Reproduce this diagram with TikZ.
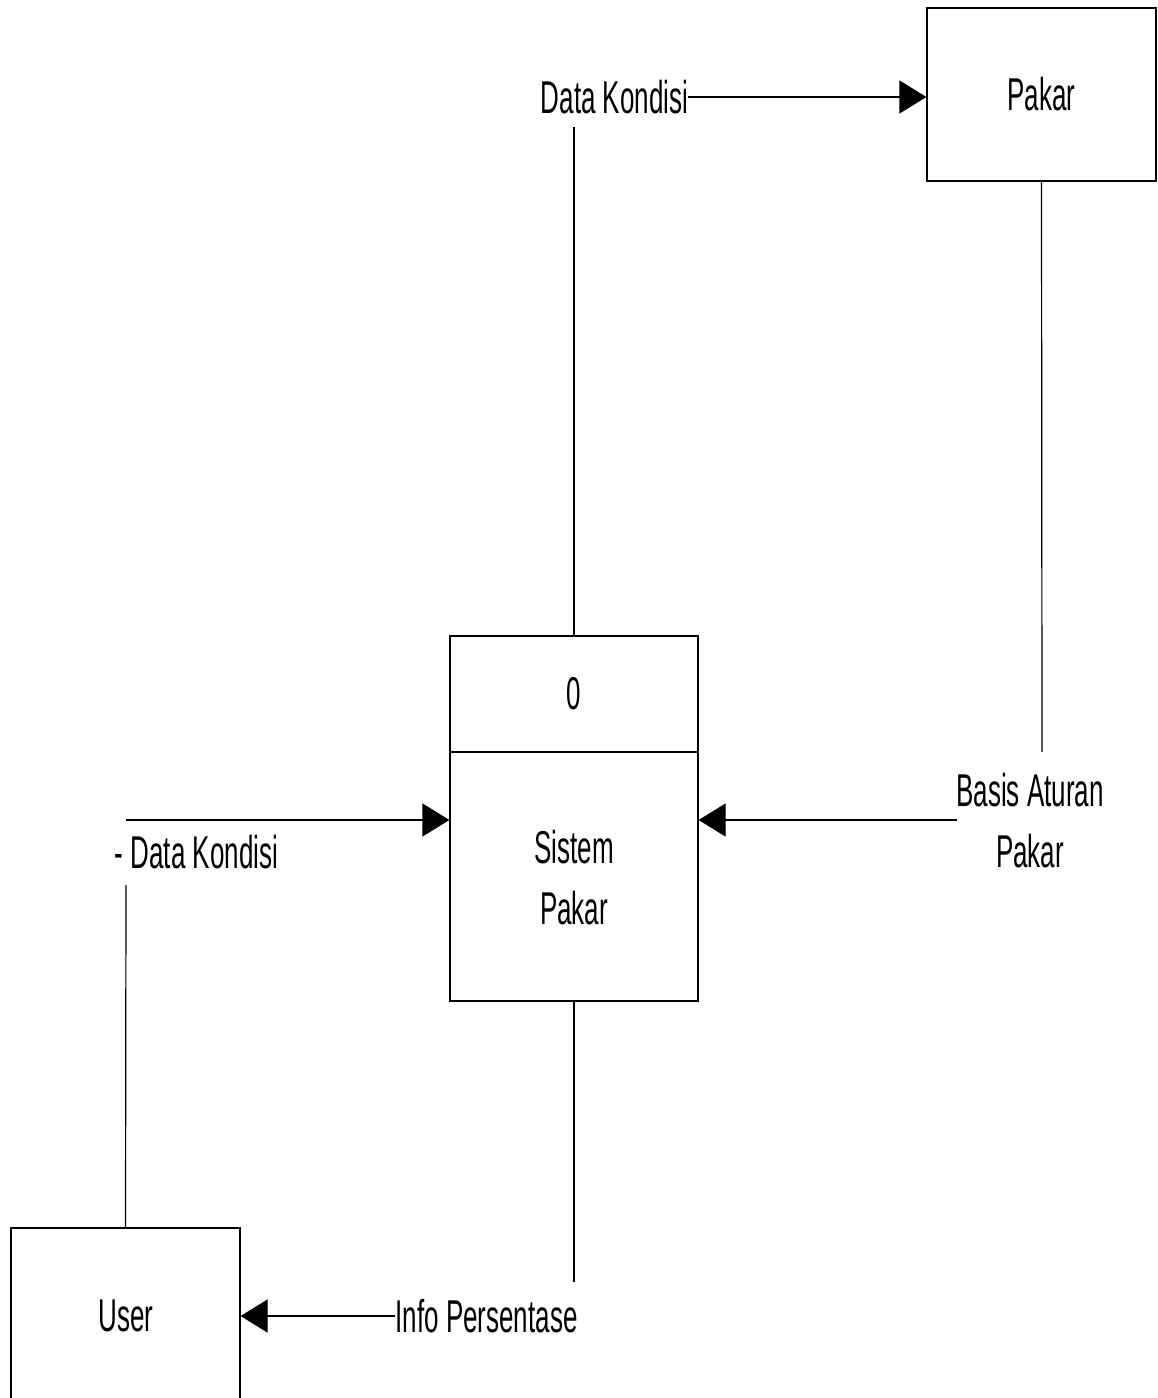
\documentclass[tikz,border=0pt]{standalone}
\usepackage{fontspec}
\setmainfont[FakeStretch=0.565]{Liberation Sans}
\usetikzlibrary{arrows.meta}
\tikzset{
  box/.style={draw, line width=1.2pt, inner sep=0pt, fill=white},
  flow/.style={line width=1.2pt},
  flowarrow/.style={line width=1.2pt, -{Triangle[length=27pt,width=33pt]}},
  lbl/.style={inner sep=0pt, align=center},
}
\begin{document}
\begin{tikzpicture}[x=1pt,y=-1pt,font=\fontsize{46}{61}\selectfont]
\useasboundingbox (0,0) rectangle (1157,1398);
\clip (0,0) rectangle (1157,1398);
\fill[white] (0,0) rectangle (1157,1398);

% external entities
\node[box, minimum width=229pt, minimum height=173pt] (pakar) at (1041.5,94.5) {Pakar};
\node[box, minimum width=229pt, minimum height=200pt] (user) at (125.5,1328) {};
\node[lbl] at (126,1316) {User};

% process 0
\node[box, minimum width=248pt, minimum height=116pt] (procid) at (574,694) {0};
\node[box, minimum width=248pt, minimum height=249pt] (procname) at (574,876.5) {};
\node[lbl] at (574,878) {Sistem\\Pakar};

% data flow labels
\node[lbl] (dk1) at (614.5,97) {Data Kondisi};
\node[lbl] (dk2) at (196.5,852) {- Data Kondisi};
\node[lbl] (info) at (486.5,1316) {Info Persentase};
\node[lbl] (basis) at (1030,821) {Basis Aturan\\Pakar};

% free ends of the flows
\coordinate (dk1foot) at (574,127);
\coordinate (dk2top) at (126,820);
\coordinate (dk2foot) at (126,885);
\coordinate (infotop) at (574,1282);
\coordinate (basistop) at (1042,752);
\coordinate (basisleft) at (957,820);

% Data Kondisi: Sistem Pakar -> Pakar
\draw[flow] (procid.north) -- (dk1foot);
\draw[flowarrow] (dk1.east) -- (dk1.east -| pakar.west);

% Basis Aturan Pakar: Pakar -> Sistem Pakar
\draw[flow] (pakar.south) -- (basistop);
\draw[flowarrow] (basisleft) -- (basisleft -| procname.east);

% Data Kondisi: User -> Sistem Pakar
\draw[flow] (user.north) -- (dk2foot);
\draw[flowarrow] (dk2top) -- (dk2top -| procname.west);

% Info Persentase: Sistem Pakar -> User
\draw[flow] (procname.south) -- (infotop);
\draw[flowarrow] (info.west) -- (info.west -| user.east);
\end{tikzpicture}
\end{document}
